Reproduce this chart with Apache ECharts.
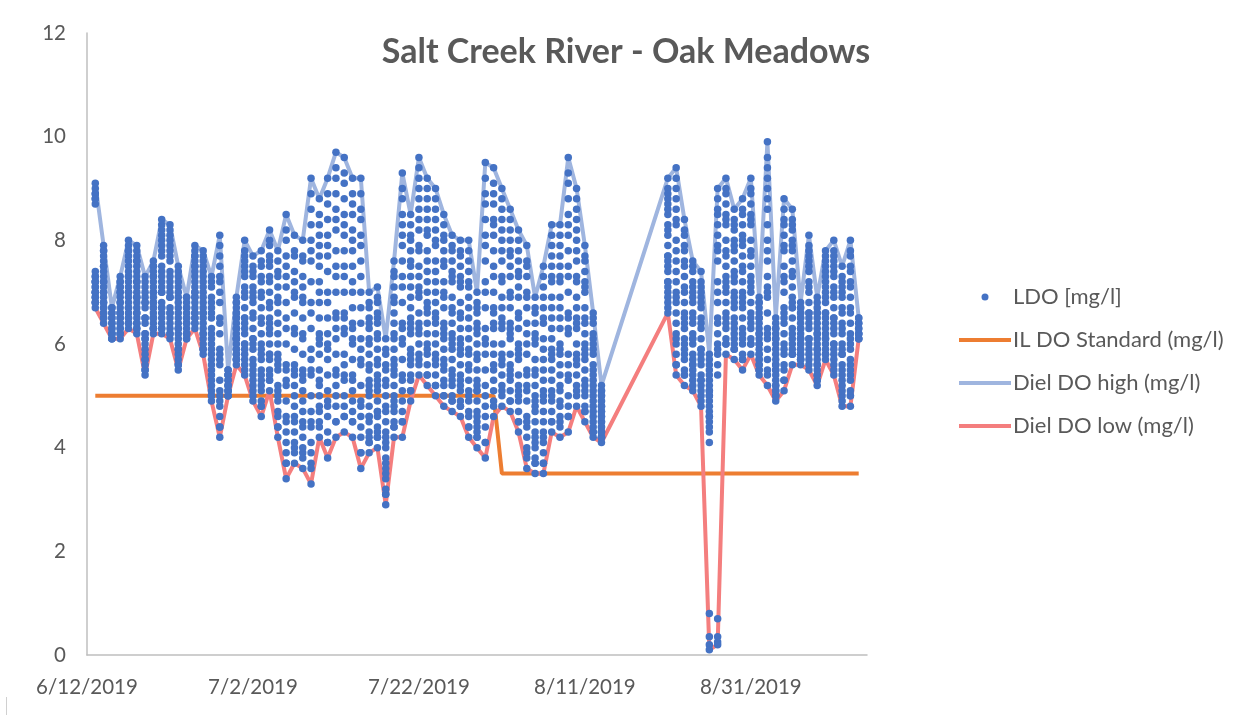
<!DOCTYPE html>
<html>
<head>
<meta charset="utf-8">
<script src="https://cdn.jsdelivr.net/npm/echarts@6/dist/echarts.min.js"></script>
<style>
  html, body { margin: 0; padding: 0; background: #ffffff; }
  #chart { width: 1252px; height: 715px; }
</style>
</head>
<body>
<div id="chart"></div>
<script>
// Salt Creek River at Oak Meadows, summer 2019 dissolved oxygen record.
const axisStart = '6/12/2019';
const xTickDays = [0, 20, 40, 60, 80];

const dates = [
  '6/13/2019','6/14/2019','6/15/2019','6/16/2019','6/17/2019','6/18/2019','6/19/2019','6/20/2019','6/21/2019','6/22/2019',
  '6/23/2019','6/24/2019','6/25/2019','6/26/2019','6/27/2019','6/28/2019','6/29/2019','6/30/2019','7/1/2019','7/2/2019',
  '7/3/2019','7/4/2019','7/5/2019','7/6/2019','7/7/2019','7/8/2019','7/9/2019','7/10/2019','7/11/2019','7/12/2019',
  '7/13/2019','7/14/2019','7/15/2019','7/16/2019','7/17/2019','7/18/2019','7/19/2019','7/20/2019','7/21/2019','7/22/2019',
  '7/23/2019','7/24/2019','7/25/2019','7/26/2019','7/27/2019','7/28/2019','7/29/2019','7/30/2019','7/31/2019','8/1/2019',
  '8/2/2019','8/3/2019','8/4/2019','8/5/2019','8/6/2019','8/7/2019','8/8/2019','8/9/2019','8/10/2019','8/11/2019',
  '8/12/2019','8/13/2019',
  '8/21/2019','8/22/2019','8/23/2019','8/24/2019','8/25/2019','8/26/2019','8/27/2019','8/28/2019','8/29/2019','8/30/2019',
  '8/31/2019','9/1/2019','9/2/2019','9/3/2019','9/4/2019','9/5/2019','9/6/2019','9/7/2019','9/8/2019','9/9/2019',
  '9/10/2019','9/11/2019','9/12/2019','9/13/2019'
];

// LDO readings for each date (mg/l)
const ldo = [
  [7.3,7.2,7.0,6.9,6.8,6.7,6.8,7.0,7.2,8.8,8.9,9.0,9.1,8.9,7.3,7.1, 7.2,7.4,8.7,8.8,6.9,7.0,7.1,6.8],
  [6.9,6.8,6.6,6.5,6.4,6.5,6.7,7.0,7.3,7.6,7.8,7.9,7.8,7.5,7.2,7.1, 6.6,6.7,6.8,7.0,7.2,7.4,7.5,7.7],
  [6.3,6.2,6.2,6.1,6.1,6.1,6.2,6.3,6.5,6.6,6.7,6.7,6.6,6.5,6.4,6.4],
  [6.5,6.4,6.3,6.2,6.1,6.2,6.3,6.6,6.8,7.1,7.2,7.3,7.2,7.0,6.8,6.6, 6.2,6.4,6.5,6.6,6.7,6.9,7.0,7.1],
  [6.9,6.7,6.5,6.4,6.3,6.4,6.6,7.0,7.3,7.7,7.9,8.0,7.8,7.5,7.3,7.1, 6.5,6.7,6.8,7.0,7.2,7.4,7.6,7.8],
  [6.8,6.6,6.4,6.3,6.2,6.3,6.5,6.9,7.2,7.6,7.8,7.9,7.7,7.4,7.2,7.0, 6.4,6.6,6.7,6.9,7.1,7.3,7.5,7.6],
  [6.1,5.9,5.7,5.5,5.4,5.5,5.7,6.1,6.5,6.9,7.2,7.3,7.1,6.8,6.5,6.2, 5.6,5.8,6.0,6.2,6.4,6.7,6.8,7.0],
  [6.7,6.5,6.4,6.3,6.2,6.3,6.5,6.7,7.0,7.3,7.5,7.6,7.5,7.2,7.0,6.8, 6.3,6.5,6.6,6.8,6.9,7.1,7.3,7.4],
  [7.0,6.7,6.5,6.3,6.2,6.3,6.6,7.0,7.5,8.0,8.3,8.4,8.2,7.8,7.4,7.2, 6.4,6.7,6.8,7.1,7.3,7.7,7.9,8.1],
  [6.9,6.6,6.4,6.2,6.1,6.2,6.5,6.9,7.4,7.9,8.2,8.3,8.1,7.7,7.3,7.1, 6.3,6.6,6.7,7.0,7.2,7.6,7.8,8.0],
  [6.2,6.0,5.8,5.6,5.5,5.6,5.9,6.3,6.7,7.1,7.4,7.5,7.3,6.9,6.6,6.4, 5.7,5.9,6.1,6.3,6.5,6.8,7.0,7.2],
  [6.4,6.3,6.2,6.2,6.1,6.1,6.2,6.4,6.6,6.7,6.9,6.9,6.8,6.7,6.5,6.5],
  [6.9,6.7,6.5,6.4,6.3,6.4,6.6,6.9,7.3,7.6,7.8,7.9,7.7,7.5,7.2,7.0, 6.5,6.6,6.8,7.0,7.1,7.4,7.5,7.7],
  [6.5,6.3,6.1,5.9,5.8,5.9,6.2,6.6,7.0,7.4,7.7,7.8,7.6,7.2,6.9,6.7, 6.0,6.2,6.4,6.6,6.8,7.1,7.3,7.5],
  [5.7,5.5,5.2,5.0,4.9,5.0,5.3,5.8,6.3,6.8,7.2,7.3,7.1,6.6,6.2,6.0, 5.1,5.4,5.6,5.9,6.1,6.5,6.7,6.9],
  [5.6,5.1,4.8,4.4,4.2,4.4,4.9,5.7,6.5,7.3,7.9,8.1,7.7,7.0,6.4,5.9, 4.6,5.0,5.3,5.8,6.2,6.8,7.2,7.5],
  [5.2,5.1,5.1,5.0,5.0,5.0,5.1,5.2,5.3,5.4,5.5,5.5,5.4,5.4,5.3,5.2],
  [6.1,5.9,5.8,5.7,5.6,5.7,5.8,6.1,6.4,6.6,6.8,6.9,6.8,6.5,6.3,6.2, 5.7,5.9,6.0,6.1,6.3,6.5,6.6,6.7],
  [6.3,6.0,5.8,5.6,5.4,5.5,5.9,6.4,7.0,7.5,7.8,8.0,7.7,7.3,6.9,6.5, 5.7,6.0,6.2,6.5,6.7,7.1,7.4,7.6],
  [5.9,5.6,5.3,5.1,4.9,5.0,5.4,6.0,6.6,7.1,7.5,7.7,7.4,6.9,6.5,6.1, 5.2,5.5,5.7,6.1,6.3,6.8,7.0,7.3],
  [5.7,5.4,5.1,4.8,4.6,4.8,5.2,5.8,6.5,7.2,7.6,7.8,7.5,6.9,6.4,6.0, 4.9,5.3,5.5,5.9,6.2,6.7,7.0,7.3],
  [6.2,5.8,5.5,5.3,5.1,5.3,5.7,6.3,7.0,7.6,8.0,8.2,7.9,7.3,6.8,6.5, 5.4,5.8,6.0,6.4,6.7,7.2,7.5,7.7],
  [5.5,5.1,4.7,4.4,4.2,4.4,4.9,5.6,6.4,7.1,7.6,7.8,7.4,6.8,6.2,5.8, 4.6,5.0,5.2,5.7,6.0,6.6,6.9,7.3],
  [5.2,4.6,4.1,3.7,3.4,3.7,4.3,5.3,6.5,7.5,8.2,8.5,8.0,7.1,6.3,5.6, 3.9,4.5,4.9,5.5,6.0,6.8,7.3,7.7],
  [5.2,4.8,4.3,4.0,3.7,3.9,4.5,5.4,6.3,7.2,7.8,8.1,7.7,6.9,6.2,5.6, 4.1,4.6,5.0,5.5,5.9,6.6,7.0,7.4],
  [5.1,4.7,4.2,3.9,3.6,3.8,4.4,5.3,6.2,7.1,7.7,8.0,7.6,6.8,6.1,5.5, 4.0,4.5,4.9,5.4,5.8,6.5,6.9,7.3],
  [5.4,4.7,4.1,3.7,3.3,3.6,4.4,5.5,6.8,8.0,8.9,9.2,8.6,7.6,6.6,5.9, 3.9,4.5,5.0,5.7,6.3,7.2,7.8,8.3],
  [5.8,5.3,4.8,4.5,4.2,4.4,5.0,6.0,7.0,7.9,8.5,8.8,8.3,7.5,6.8,6.2, 4.7,5.2,5.5,6.1,6.5,7.2,7.7,8.1],
  [5.7,5.1,4.6,4.1,3.8,4.1,4.8,5.9,7.0,8.1,8.9,9.2,8.7,7.7,6.8,6.2, 4.3,4.9,5.4,6.0,6.5,7.4,7.9,8.4],
  [6.1,5.5,5.0,4.5,4.2,4.5,5.2,6.3,7.5,8.6,9.4,9.7,9.2,8.2,7.3,6.6, 4.8,5.4,5.8,6.5,7.0,7.8,8.4,8.9],
  [6.2,5.6,5.0,4.6,4.3,4.6,5.3,6.3,7.5,8.5,9.3,9.6,9.1,8.1,7.3,6.6, 4.8,5.4,5.8,6.5,7.0,7.8,8.3,8.8],
  [6.0,5.4,4.9,4.5,4.2,4.5,5.1,6.1,7.2,8.2,8.9,9.2,8.7,7.8,7.0,6.4, 4.7,5.3,5.7,6.3,6.7,7.5,8.0,8.5],
  [5.6,4.9,4.4,3.9,3.6,3.9,4.6,5.7,7.0,8.1,8.9,9.2,8.6,7.6,6.7,6.1, 4.2,4.8,5.2,5.9,6.4,7.3,7.9,8.4],
  [5.0,4.6,4.3,4.1,3.9,4.1,4.5,5.1,5.8,6.4,6.8,7.0,6.7,6.1,5.6,5.3, 4.2,4.6,4.8,5.2,5.5,6.0,6.3,6.5],
  [5.1,4.7,4.4,4.2,4.0,4.2,4.6,5.2,5.9,6.5,6.9,7.1,6.8,6.2,5.7,5.4, 4.3,4.7,4.9,5.3,5.6,6.1,6.4,6.6],
  [4.0,3.7,3.4,3.1,2.9,3.1,3.5,4.1,4.8,5.5,5.9,6.1,5.8,5.2,4.7,4.3, 3.2,3.6,3.8,4.2,4.5,5.0,5.3,5.6],
  [5.4,5.0,4.7,4.4,4.2,4.4,4.8,5.5,6.2,6.9,7.4,7.6,7.3,6.6,6.1,5.7, 4.5,4.9,5.2,5.6,5.9,6.4,6.8,7.1],
  [6.0,5.4,4.9,4.5,4.2,4.5,5.1,6.1,7.3,8.3,9.0,9.3,8.8,7.9,7.1,6.4, 4.7,5.3,5.7,6.3,6.8,7.6,8.1,8.5],
  [6.2,5.8,5.4,5.1,4.9,5.1,5.6,6.3,7.1,7.8,8.3,8.5,8.1,7.5,6.9,6.5, 5.3,5.7,5.9,6.4,6.7,7.3,7.6,8.0],
  [6.9,6.4,6.0,5.7,5.4,5.6,6.2,7.0,7.9,8.8,9.4,9.6,9.2,8.4,7.8,7.3, 5.8,6.3,6.6,7.1,7.5,8.2,8.6,9.0],
  [6.6,6.2,5.8,5.4,5.2,5.4,5.9,6.7,7.6,8.4,9.0,9.2,8.8,8.1,7.4,7.0, 5.6,6.0,6.4,6.8,7.2,7.8,8.2,8.6],
  [6.4,6.0,5.6,5.2,5.0,5.2,5.7,6.5,7.4,8.2,8.8,9.0,8.6,7.9,7.2,6.8, 5.4,5.8,6.2,6.6,7.0,7.6,8.0,8.4],
  [6.1,5.7,5.3,5.0,4.8,5.0,5.5,6.2,7.0,7.8,8.3,8.5,8.1,7.5,6.9,6.4, 5.2,5.6,5.9,6.3,6.7,7.2,7.6,8.0],
  [5.9,5.5,5.2,4.9,4.7,4.9,5.3,6.0,6.7,7.4,7.9,8.1,7.8,7.2,6.6,6.2, 5.0,5.4,5.7,6.1,6.4,6.9,7.3,7.6],
  [5.8,5.4,5.1,4.8,4.6,4.8,5.2,5.9,6.6,7.3,7.8,8.0,7.7,7.1,6.5,6.1, 4.9,5.3,5.6,6.0,6.3,6.8,7.2,7.5],
  [5.5,5.1,4.7,4.4,4.2,4.4,4.9,5.6,6.5,7.2,7.8,8.0,7.6,6.9,6.3,5.9, 4.6,5.0,5.3,5.8,6.1,6.7,7.1,7.4],
  [5.1,4.7,4.4,4.2,4.0,4.2,4.5,5.1,5.8,6.4,6.8,7.0,6.7,6.2,5.7,5.3, 4.3,4.6,4.9,5.2,5.5,6.0,6.3,6.6],
  [5.8,5.2,4.6,4.1,3.8,4.1,4.8,6.0,7.2,8.4,9.2,9.5,8.9,7.9,7.0,6.3, 4.4,5.0,5.5,6.1,6.7,7.6,8.1,8.7],
  [6.3,5.8,5.3,4.9,4.6,4.8,5.5,6.4,7.5,8.4,9.1,9.4,8.9,8.1,7.3,6.7, 5.1,5.6,6.0,6.6,7.0,7.8,8.3,8.7],
  [6.3,5.8,5.4,5.1,4.8,5.0,5.6,6.4,7.3,8.2,8.8,9.0,8.6,7.8,7.2,6.7, 5.2,5.7,6.0,6.5,6.9,7.6,8.0,8.4],
  [6.1,5.6,5.3,4.9,4.7,4.9,5.4,6.2,7.0,7.8,8.4,8.6,8.2,7.5,6.9,6.4, 5.1,5.5,5.8,6.3,6.7,7.3,7.7,8.0],
  [5.7,5.2,4.9,4.5,4.3,4.5,5.0,5.8,6.6,7.4,8.0,8.2,7.8,7.1,6.5,6.0, 4.7,5.1,5.4,5.9,6.3,6.9,7.3,7.6],
  [5.1,4.6,4.2,3.9,3.6,3.8,4.4,5.2,6.2,7.0,7.6,7.9,7.5,6.7,6.0,5.5, 4.0,4.5,4.9,5.4,5.8,6.4,6.9,7.3],
  [4.7,4.3,4.0,3.7,3.5,3.7,4.1,4.8,5.5,6.2,6.7,6.9,6.6,6.0,5.4,5.0, 3.8,4.2,4.5,4.9,5.2,5.7,6.1,6.4],
  [4.9,4.5,4.1,3.7,3.5,3.7,4.2,5.0,5.9,6.7,7.3,7.5,7.1,6.4,5.7,5.3, 3.9,4.3,4.7,5.1,5.5,6.1,6.5,6.9],
  [5.7,5.3,4.9,4.5,4.3,4.5,5.0,5.8,6.7,7.5,8.1,8.3,7.9,7.2,6.5,6.1, 4.7,5.1,5.5,5.9,6.3,6.9,7.3,7.7],
  [5.6,5.2,4.8,4.5,4.2,4.4,4.9,5.8,6.7,7.5,8.1,8.3,7.9,7.2,6.5,6.0, 4.6,5.1,5.4,5.9,6.3,6.9,7.3,7.7],
  [6.2,5.6,5.0,4.6,4.3,4.6,5.3,6.3,7.5,8.5,9.3,9.6,9.1,8.1,7.3,6.6, 4.8,5.4,5.8,6.5,7.0,7.8,8.3,8.8],
  [6.3,5.8,5.4,5.1,4.8,5.0,5.6,6.4,7.3,8.2,8.8,9.0,8.6,7.8,7.2,6.7, 5.2,5.7,6.0,6.5,6.9,7.6,8.0,8.4],
  [5.7,5.3,5.0,4.7,4.5,4.7,5.1,5.8,6.5,7.2,7.7,7.9,7.6,7.0,6.4,6.0, 4.8,5.2,5.5,5.9,6.2,6.7,7.1,7.4],
  [5.0,4.8,4.5,4.3,4.2,4.3,4.6,5.1,5.6,6.1,6.5,6.6,6.4,5.9,5.5,5.3, 4.4,4.7,4.9,5.2,5.4,5.8,6.0,6.2],
  [4.5,4.4,4.3,4.2,4.1,4.2,4.3,4.5,4.8,5.0,5.1,5.2,5.1,4.9,4.7,4.6, 4.2,4.3,4.4,4.6,4.7,4.8,4.9,5.0],
  [7.5,7.2,7.0,6.8,6.6,6.7,7.1,7.6,8.2,8.7,9.0,9.2,8.9,8.5,8.1,7.7, 6.9,7.2,7.4,7.7,7.9,8.3,8.6,8.8],
  [6.8,6.4,6.0,5.6,5.4,5.6,6.1,6.9,7.8,8.6,9.2,9.4,9.0,8.3,7.6,7.2, 5.8,6.2,6.6,7.0,7.4,8.0,8.4,8.8],
  [6.3,6.0,5.7,5.4,5.2,5.4,5.8,6.4,7.1,7.8,8.2,8.4,8.1,7.5,7.0,6.6, 5.5,5.9,6.1,6.5,6.8,7.3,7.6,7.9],
  [6.0,5.7,5.5,5.3,5.1,5.2,5.6,6.1,6.6,7.1,7.5,7.6,7.4,6.9,6.5,6.2, 5.4,5.6,5.8,6.1,6.4,6.8,7.0,7.2],
  [5.7,5.4,5.2,5.0,4.8,4.9,5.3,5.8,6.4,6.9,7.2,7.4,7.1,6.7,6.3,5.9, 5.1,5.3,5.6,5.9,6.1,6.5,6.8,7.0],
  [5.3,5.1,4.9,4.6,4.4,4.1,0.8,0.35,0.2,0.1,4.6,5.2,5.8,5.6,5.4,5.0, 4.3,4.5,4.7,4.8,5.0,5.1,5.5,5.7],
  [0.7,0.35,0.25,0.2,5.4,6.0,6.8,7.6,8.3,8.8,9.0,8.6,7.9,7.0,6.4,5.9, 5.6,5.8,6.2,6.5,7.2,7.8,8.1,8.5],
  [7.0,6.6,6.3,6.0,5.8,6.0,6.4,7.1,7.8,8.5,9.0,9.2,8.9,8.3,7.7,7.3, 6.1,6.5,6.8,7.2,7.5,8.0,8.4,8.7],
  [6.7,6.4,6.1,5.9,5.7,5.9,6.2,6.8,7.4,8.0,8.4,8.6,8.3,7.8,7.3,7.0, 6.0,6.3,6.5,6.9,7.2,7.6,7.9,8.2],
  [6.7,6.3,6.0,5.7,5.5,5.7,6.1,6.8,7.5,8.1,8.6,8.8,8.5,7.9,7.4,7.0, 5.8,6.2,6.5,6.9,7.2,7.7,8.0,8.3],
  [7.0,6.6,6.3,6.0,5.8,6.0,6.4,7.1,7.8,8.5,9.0,9.2,8.9,8.3,7.7,7.3, 6.1,6.5,6.8,7.2,7.5,8.0,8.4,8.7],
  [5.9,5.8,5.6,5.5,5.4,5.5,5.7,6.0,6.3,6.6,6.8,6.9,6.8,6.5,6.2,6.1, 5.6,5.7,5.8,6.0,6.2,6.4,6.5,6.7],
  [6.9,6.3,5.9,5.5,5.2,5.4,6.1,7.0,8.0,9.0,9.6,9.9,9.4,8.6,7.8,7.3, 5.7,6.2,6.6,7.1,7.6,8.3,8.8,9.2],
  [5.5,5.3,5.1,5.0,4.9,5.0,5.2,5.5,5.9,6.2,6.4,6.5,6.3,6.1,5.8,5.6, 5.1,5.2,5.4,5.6,5.7,6.0,6.1,6.3],
  [6.4,6.0,5.6,5.3,5.1,5.3,5.8,6.5,7.3,8.1,8.6,8.8,8.4,7.8,7.2,6.7, 5.5,5.9,6.2,6.6,7.0,7.5,7.9,8.3],
  [6.7,6.3,6.0,5.8,5.6,5.8,6.1,6.7,7.4,8.0,8.4,8.6,8.3,7.8,7.3,6.9, 5.9,6.2,6.5,6.8,7.1,7.6,7.9,8.2],
  [6.0,5.9,5.8,5.7,5.6,5.7,5.8,6.1,6.3,6.6,6.7,6.8,6.7,6.5,6.3,6.1, 5.7,5.9,6.0,6.1,6.2,6.4,6.5,6.6],
  [6.4,6.1,5.9,5.7,5.5,5.6,6.0,6.5,7.1,7.6,7.9,8.1,7.8,7.4,7.0,6.6, 5.8,6.1,6.3,6.6,6.8,7.2,7.5,7.7],
  [5.8,5.6,5.4,5.3,5.2,5.3,5.5,5.9,6.2,6.6,6.8,6.9,6.7,6.4,6.2,6.0, 5.4,5.6,5.7,5.9,6.1,6.3,6.5,6.6],
  [6.4,6.2,6.0,5.8,5.7,5.8,6.1,6.5,7.0,7.4,7.7,7.8,7.6,7.2,6.9,6.6, 5.9,6.1,6.3,6.6,6.8,7.1,7.3,7.5],
  [6.3,6.0,5.8,5.6,5.4,5.5,5.9,6.4,7.0,7.5,7.8,8.0,7.7,7.3,6.9,6.5, 5.7,6.0,6.2,6.5,6.7,7.1,7.4,7.6],
  [5.8,5.5,5.2,5.0,4.8,4.9,5.3,5.8,6.4,7.0,7.3,7.5,7.2,6.7,6.3,6.0, 5.1,5.4,5.6,5.9,6.2,6.6,6.9,7.1],
  [5.9,5.6,5.3,5.0,4.8,5.0,5.4,6.0,6.7,7.4,7.8,8.0,7.7,7.1,6.6,6.2, 5.1,5.5,5.7,6.1,6.4,6.9,7.2,7.5],
  [6.2,6.2,6.1,6.1,6.1,6.2,6.3,6.4,6.5,6.5,6.4,6.3]
];

// Illinois DO standard in force on each date (mg/l)
const ilStandard = [
  5,5,5,5,5,5,5,5,5,5, 5,5,5,5,5,5,5,5,5,5,
  5,5,5,5,5,5,5,5,5,5, 5,5,5,5,5,5,5,5,5,5,
  5,5,5,5,5,5,5,5,5,3.5, 3.5,3.5,3.5,3.5,3.5,3.5,3.5,3.5,3.5,3.5,
  3.5,3.5,
  3.5,3.5,3.5,3.5,3.5,3.5,3.5,3.5,3.5,3.5, 3.5,3.5,3.5,3.5,3.5,3.5,3.5,3.5,3.5,3.5,
  3.5,3.5,3.5,3.5
];

// Daily maximum and minimum of the LDO readings (mg/l)
const dielHigh = [
  9.1,7.9,6.7,7.3,8.0,7.9,7.3,7.6,8.4,8.3, 7.5,6.9,7.9,7.8,7.3,8.1,5.5,6.9,8.0,7.7,
  7.8,8.2,7.8,8.5,8.1,8.0,9.2,8.8,9.2,9.7, 9.6,9.2,9.2,7.0,7.1,6.1,7.6,9.3,8.5,9.6,
  9.2,9.0,8.5,8.1,8.0,8.0,7.0,9.5,9.4,9.0, 8.6,8.2,7.9,6.9,7.5,8.3,8.3,9.6,9.0,7.9,
  6.6,5.2,
  9.2,9.4,8.4,7.6,7.4,5.8,9.0,9.2,8.6,8.8, 9.2,6.9,9.9,6.5,8.8,8.6,6.8,8.1,6.9,7.8,
  8.0,7.5,8.0,6.5
];
const dielLow = [
  6.7,6.4,6.1,6.1,6.3,6.2,5.4,6.2,6.2,6.1, 5.5,6.1,6.3,5.8,4.9,4.2,5.0,5.6,5.4,4.9,
  4.6,5.1,4.2,3.4,3.7,3.6,3.3,4.2,3.8,4.2, 4.3,4.2,3.6,3.9,4.0,2.9,4.2,4.2,4.9,5.4,
  5.2,5.0,4.8,4.7,4.6,4.2,4.0,3.8,4.6,4.8, 4.7,4.3,3.6,3.5,3.5,4.3,4.2,4.3,4.8,4.5,
  4.2,4.1,
  6.6,5.4,5.2,5.1,4.8,0.1,0.2,5.8,5.7,5.5, 5.8,5.4,5.2,4.9,5.1,5.6,5.6,5.5,5.2,5.7,
  5.4,4.8,4.8,6.1
];

const seriesNames = ['LDO [mg/l]', 'IL DO Standard (mg/l)', 'Diel DO high (mg/l)', 'Diel DO low (mg/l)'];

function parseDate(s) {
  const [m, d, y] = s.split('/').map(Number);
  return Date.UTC(y, m - 1, d);
}
const DAY = 86400000;
const t0 = parseDate(axisStart);
const dayOf = s => Math.round((parseDate(s) - t0) / DAY);
const xs = dates.map(dayOf);

function dayLabel(v) {
  const dt = new Date(t0 + v * DAY);
  return (dt.getUTCMonth() + 1) + '/' + dt.getUTCDate() + '/' + dt.getUTCFullYear();
}

const ldoPoints = [];
ldo.forEach((day, i) => day.forEach(v => ldoPoints.push([xs[i], v])));
const pair = arr => arr.map((v, i) => [xs[i], v]);

const FONT = 'Lato, "Open Sans", sans-serif';
const GREY = '#595959';
const COLORS = { ldo: '#4472C4', standard: '#ED7D31', high: '#9FB5DF', low: '#F47E7E' };

// legend entries for the three lines show a plain thick stroke
const lineLegend = name => ({ name, itemStyle: { opacity: 0 }, lineStyle: { width: 4 } });

const chart = echarts.init(document.getElementById('chart'), null, { renderer: 'canvas' });
chart.setOption({
  animation: false,
  backgroundColor: '#ffffff',
  title: {
    text: 'Salt Creek River - Oak Meadows',
    left: 'center',
    top: 30,
    textStyle: { fontFamily: FONT, fontSize: 34, fontWeight: 'bold', color: GREY }
  },
  legend: {
    orient: 'vertical',
    left: 952,
    top: 281,
    itemWidth: 52,
    itemHeight: 7,
    itemGap: 21,
    data: [
      { name: seriesNames[0], icon: 'circle' },
      lineLegend(seriesNames[1]),
      lineLegend(seriesNames[2]),
      lineLegend(seriesNames[3])
    ],
    textStyle: { fontFamily: FONT, fontSize: 22, color: GREY, padding: [0, 0, 0, -3] }
  },
  graphic: [
    {
      // edge of the surrounding frame at the lower left
      type: 'line',
      shape: { x1: 6.5, y1: 697, x2: 6.5, y2: 715 },
      style: { stroke: '#D0D0D0', lineWidth: 1 },
      silent: true
    }
  ],
  grid: { left: 87, right: 385, top: 33, bottom: 60, containLabel: false, outerBoundsMode: 'none' },
  xAxis: {
    type: 'value',
    min: 0,
    max: 94,
    interval: 20,
    splitLine: { show: false },
    axisTick: { show: false },
    axisLine: { lineStyle: { color: '#BFBFBF', width: 1.5 } },
    axisLabel: {
      margin: 22,
      fontFamily: FONT, fontSize: 20.5, color: GREY,
      showMaxLabel: false,
      formatter: v => xTickDays.includes(v) ? dayLabel(v) : ''
    }
  },
  yAxis: {
    type: 'value',
    min: 0,
    max: 12,
    interval: 2,
    splitLine: { show: false },
    axisTick: { show: false },
    axisLine: { show: true, lineStyle: { color: '#BFBFBF', width: 1.5 } },
    axisLabel: { margin: 21, fontFamily: FONT, fontSize: 20.5, color: GREY }
  },
  series: [
    {
      name: seriesNames[0],
      type: 'scatter',
      data: ldoPoints,
      symbol: 'circle',
      symbolSize: 7.5,
      itemStyle: { color: COLORS.ldo, opacity: 1 },
      z: 4
    },
    {
      name: seriesNames[1],
      type: 'line',
      data: pair(ilStandard),
      symbol: 'none',
      lineStyle: { color: COLORS.standard, width: 4 },
      itemStyle: { color: COLORS.standard },
      z: 2
    },
    {
      name: seriesNames[2],
      type: 'line',
      data: pair(dielHigh),
      symbol: 'none',
      lineStyle: { color: COLORS.high, width: 4 },
      itemStyle: { color: COLORS.high },
      z: 2
    },
    {
      name: seriesNames[3],
      type: 'line',
      data: pair(dielLow),
      symbol: 'none',
      lineStyle: { color: COLORS.low, width: 4 },
      itemStyle: { color: COLORS.low },
      z: 2
    }
  ]
});
</script>
</body>
</html>
